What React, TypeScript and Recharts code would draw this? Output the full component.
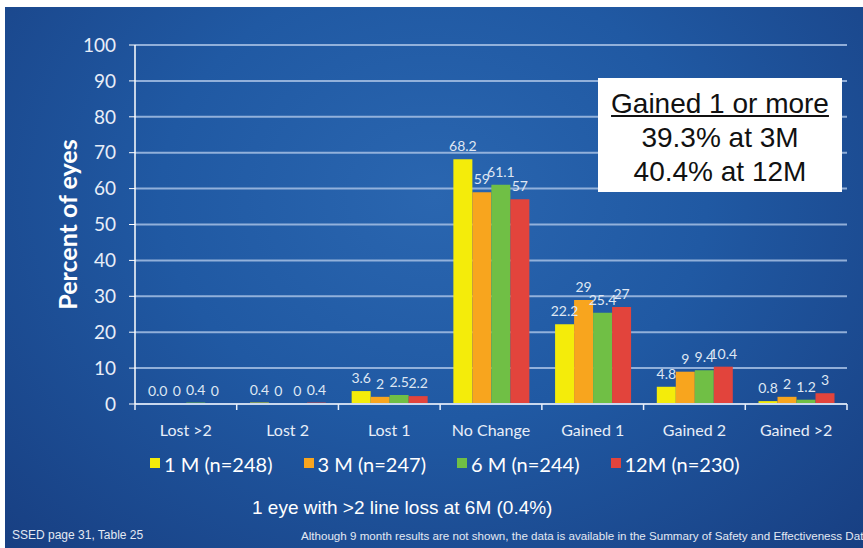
import React from 'react';
import {
  BarChart, Bar, XAxis, YAxis, CartesianGrid, Legend, LabelList
} from 'recharts';

// categories and series
const categories = ['Lost >2', 'Lost 2', 'Lost 1', 'No Change', 'Gained 1', 'Gained 2', 'Gained >2'];
const m1Values = [0.0, 0.4, 3.6, 68.2, 22.2, 4.8, 0.8];
const m3Values = [0, 0, 2, 59, 29, 9, 2];
const m6Values = [0.4, 0, 2.5, 61.1, 25.4, 9.4, 1.2];
const m12Values = [0, 0.4, 2.2, 57, 27, 10.4, 3];
const m1Labels = ['0.0', '0.4', '3.6', '68.2', '22.2', '4.8', '0.8'];
const yTicks = [0, 10, 20, 30, 40, 50, 60, 70, 80, 90, 100];

const series = [
  { key: 'm1', name: '1 M (n=248)', color: '#f4ec0a', values: m1Values },
  { key: 'm3', name: '3 M (n=247)', color: '#f8a51e', values: m3Values },
  { key: 'm6', name: '6 M (n=244)', color: '#70bf45', values: m6Values },
  { key: 'm12', name: '12M (n=230)', color: '#e2443c', values: m12Values },
];

const data = categories.map((name, i) => {
  const row: Record<string, string | number> = { name };
  series.forEach((s) => {
    row[s.key] = s.values[i];
    row[s.key + 'Label'] = s.key === 'm1' ? m1Labels[i] : String(s.values[i]);
  });
  return row;
});

const W = 863;
const H = 548;
const margin = { top: 45, right: 16, bottom: 114, left: 40 };
const Y_AXIS_W = 95;
const STEP = (W - margin.left - Y_AXIS_W - margin.right) / categories.length;
const FONT = 'Lato, "Open Sans", sans-serif';

const CategoryTick = (props: any) => {
  const { x, y, payload, index } = props;
  const i = index ?? payload?.index ?? 0;
  return (
    <g>
      <line x1={x - STEP / 2} x2={x - STEP / 2} y1={y - 6} y2={y} stroke="#e8eef8" strokeWidth={1.5} />
      {i === categories.length - 1 && (
        <line x1={x + STEP / 2} x2={x + STEP / 2} y1={y - 6} y2={y} stroke="#e8eef8" strokeWidth={1.5} />
      )}
      <text x={x} y={y + 26} textAnchor="middle" fill="#e8eef8" fontSize={16} fontFamily={FONT}>
        {payload.value}
      </text>
    </g>
  );
};

const LegendContent = () => (
  <div style={{ display: 'flex', gap: 31, fontFamily: FONT, fontSize: 20, color: '#ffffff', whiteSpace: 'nowrap' }}>
    {series.map((s) => (
      <div key={s.key} style={{ display: 'flex', alignItems: 'center' }}>
        <span style={{ width: 10, height: 10, background: s.color, marginRight: 4, marginTop: -2 }} />
        <span>{s.name}</span>
      </div>
    ))}
  </div>
);

export default function App() {
  return (
    <div style={{ position: 'absolute', left: 0, top: 0, width: W, height: H, background: '#ffffff', overflow: 'hidden' }}>
      <div
        style={{
          position: 'absolute', left: 5, top: 7, width: W - 5, height: H - 7,
          background: 'radial-gradient(ellipse at 50% 35%, #2a66b0 0%, #2059a3 45%, #183f82 100%)',
        }}
      />
      <div style={{ position: 'absolute', left: 0, top: 0 }}>
        <BarChart width={W} height={H} data={data} margin={margin} barCategoryGap="13%" barGap={0}>
          <CartesianGrid vertical={false} stroke="#a6bfe4" strokeOpacity={0.85} strokeWidth={2} />
          <XAxis
            dataKey="name"
            axisLine={{ stroke: '#c9d8ee', strokeWidth: 2 }}
            tickLine={false}
            tickSize={6}
            tickMargin={0}
            tick={<CategoryTick />}
            interval={0}
          />
          <YAxis
            width={Y_AXIS_W}
            domain={[0, 100]}
            ticks={yTicks}
            interval={0}
            axisLine={{ stroke: '#ffffff', strokeWidth: 1.5 }}
            tickLine={{ stroke: '#ffffff' }}
            tickSize={6}
            tickMargin={13}
            tick={{ fill: '#e8eef8', fontSize: 19, fontFamily: FONT }}
            label={{
              value: 'Percent of eyes', angle: -90, position: 'insideLeft', offset: 28,
              style: { textAnchor: 'middle', fill: '#ffffff', fontSize: 25, fontWeight: 700, fontFamily: FONT },
            }}
          />
          <Legend
            verticalAlign="middle"
            align="center"
            content={<LegendContent />}
            wrapperStyle={{ top: 452, left: 150, width: 660 }}
          />
          {series.map((s) => (
            <Bar
              key={s.key}
              dataKey={s.key}
              name={s.name}
              fill={s.color}
              minPointSize={0.01}
              isAnimationActive={false}
            >
              <LabelList
                dataKey={s.key + 'Label'}
                position="top"
                offset={8}
                fill="#dfe7f3"
                fontSize={14}
                fontFamily={FONT}
              />
            </Bar>
          ))}
        </BarChart>
      </div>
      <div
        style={{
          position: 'absolute', left: 598, top: 78, width: 244, height: 114, background: '#ffffff',
          fontFamily: '"Liberation Sans", Arial, sans-serif', fontSize: 28, color: '#111111',
          textAlign: 'center', lineHeight: '34px', paddingTop: 9, boxSizing: 'border-box', whiteSpace: 'nowrap',
        }}
      >
        <div style={{ textDecoration: 'underline' }}>Gained 1 or more</div>
        <div>39.3% at 3M</div>
        <div>40.4% at 12M</div>
      </div>
      <div
        style={{
          position: 'absolute', left: 252, top: 497, fontFamily: '"Liberation Sans", Arial, sans-serif',
          fontSize: 19, color: '#ffffff', whiteSpace: 'nowrap',
        }}
      >
        1 eye with &gt;2 line loss at 6M (0.4%)
      </div>
      <div
        style={{
          position: 'absolute', left: 12, top: 528, fontFamily: '"Liberation Sans", Arial, sans-serif',
          fontSize: 12, color: '#e3e9f3', whiteSpace: 'nowrap',
        }}
      >
        SSED page 31, Table 25
      </div>
      <div
        style={{
          position: 'absolute', left: 301, top: 529, fontFamily: '"Liberation Sans", Arial, sans-serif',
          fontSize: 11.6, color: '#e3e9f3', whiteSpace: 'nowrap',
        }}
      >
        Although 9 month results are not shown, the data is available in the Summary of Safety and Effectiveness Data
      </div>
    </div>
  );
}
